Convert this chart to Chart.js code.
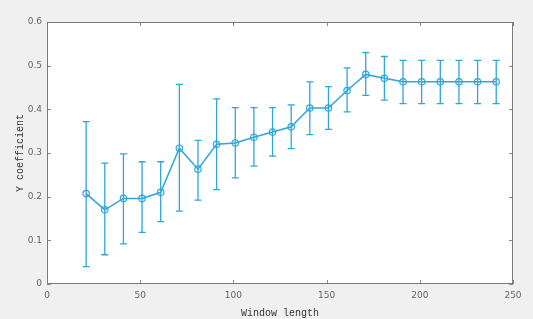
<!DOCTYPE html>
<html>
<head>
<meta charset="utf-8">
<script src="https://cdn.jsdelivr.net/npm/chart.js@4"></script>
<style>
  html, body { margin: 0; padding: 0; background: #f0f0f0; }
  #wrap { width: 533px; height: 319px; }
</style>
</head>
<body>
<div id="wrap"><canvas id="myChart" width="533" height="319"></canvas></div>
<script>
// window lengths and Y coefficient (mean, upper and lower error bar ends)
const windowLength = [21, 31, 41, 51, 61, 71, 81, 91, 101, 111, 121, 131, 141, 151, 161, 171, 181, 191, 201, 211, 221, 231, 241];
const yCoef = [0.207, 0.170, 0.196, 0.196, 0.210, 0.311, 0.263, 0.320, 0.323, 0.336, 0.348, 0.360, 0.403, 0.403, 0.443, 0.480, 0.471, 0.463, 0.463, 0.463, 0.463, 0.463, 0.463];
const yUpper = [0.372, 0.277, 0.298, 0.280, 0.280, 0.457, 0.329, 0.424, 0.404, 0.404, 0.404, 0.410, 0.463, 0.452, 0.495, 0.530, 0.521, 0.512, 0.512, 0.512, 0.512, 0.512, 0.512];
const yLower = [0.040, 0.067, 0.092, 0.118, 0.143, 0.167, 0.192, 0.216, 0.243, 0.270, 0.293, 0.310, 0.342, 0.354, 0.394, 0.432, 0.421, 0.413, 0.413, 0.413, 0.413, 0.413, 0.413];
const xTicks = [0, 50, 100, 150, 200, 250];
const yTicks = [0, 0.1, 0.2, 0.3, 0.4, 0.5, 0.6];

const blue = '#2ea6d8';

// white plot box, box outline, inward ticks, error bars
const matlabBox = {
    id: 'matlabBox',
    beforeDraw(chart) {
        const c = chart.ctx, a = chart.chartArea;
        c.save();
        c.fillStyle = '#f0f0f0';
        c.fillRect(0, 0, chart.width, chart.height);
        c.fillStyle = '#ffffff';
        c.fillRect(a.left, a.top, a.right - a.left, a.bottom - a.top);
        c.restore();
    },
    beforeDatasetsDraw(chart) {
        const c = chart.ctx;
        const xs = chart.scales.x, ys = chart.scales.y;
        c.save();
        c.strokeStyle = blue;
        c.lineWidth = 1.3;
        for (let i = 0; i < windowLength.length; i++) {
            const px = xs.getPixelForValue(windowLength[i]);
            const pt = ys.getPixelForValue(yUpper[i]);
            const pb = ys.getPixelForValue(yLower[i]);
            c.beginPath();
            c.moveTo(px, pt); c.lineTo(px, pb);
            c.moveTo(px - 3.5, pt); c.lineTo(px + 3.5, pt);
            c.moveTo(px - 3.5, pb); c.lineTo(px + 3.5, pb);
            c.stroke();
        }
        c.restore();
    },
    afterDraw(chart) {
        const c = chart.ctx, a = chart.chartArea;
        const xs = chart.scales.x, ys = chart.scales.y;
        c.save();
        c.strokeStyle = '#8a8a8a';
        c.lineWidth = 1;
        c.beginPath();
        xTicks.forEach(v => {
            const px = Math.round(xs.getPixelForValue(v)) + 0.5;
            c.moveTo(px, a.bottom); c.lineTo(px, a.bottom - 4);
            c.moveTo(px, a.top); c.lineTo(px, a.top + 4);
        });
        yTicks.forEach(v => {
            const py = Math.round(ys.getPixelForValue(v)) + 0.5;
            c.moveTo(a.left, py); c.lineTo(a.left + 4, py);
            c.moveTo(a.right, py); c.lineTo(a.right - 4, py);
        });
        c.stroke();
        c.strokeStyle = '#7a7a7a';
        c.strokeRect(a.left + 0.5, a.top + 0.5, a.right - a.left - 1, a.bottom - a.top - 1);
        c.restore();
    }
};

const ctx = document.getElementById('myChart');
const myChart = new Chart(ctx, {
    type: 'line',
    data: {
        datasets: [{
            label: 'Y coefficient',
            data: windowLength.map((x, i) => ({ x: x, y: yCoef[i] })),
            borderColor: blue,
            backgroundColor: 'rgba(255,255,255,0)',
            borderWidth: 1.5,
            pointRadius: 3.2,
            pointBorderWidth: 1.2,
            pointBorderColor: blue,
            pointBackgroundColor: 'rgba(255,255,255,0)',
            tension: 0
        }]
    },
    options: {
        responsive: false,
        animation: false,
        layout: { padding: { top: 22, right: 20, left: 0, bottom: 0 } },
        plugins: { legend: { display: false }, tooltip: { enabled: false } },
        scales: {
            x: {
                type: 'linear',
                min: 0, max: 250,
                grid: { display: false, drawTicks: false },
                border: { display: false },
                afterBuildTicks: s => { s.ticks = xTicks.map(v => ({ value: v })); },
                afterFit: s => { s.height = 35; },
                ticks: {
                    padding: 6,
                    color: '#666',
                    font: { family: 'DejaVu Sans', size: 9 },
                    maxRotation: 0
                },
                title: {
                    display: true,
                    text: 'Window length',
                    color: '#333',
                    padding: { top: 1, bottom: 0 },
                    font: { family: 'Liberation Mono', size: 10 }
                }
            },
            y: {
                min: 0, max: 0.6,
                grid: { display: false, drawTicks: false },
                border: { display: false },
                afterBuildTicks: s => { s.ticks = yTicks.map(v => ({ value: v })); },
                afterFit: s => { s.width = 47; },
                ticks: {
                    padding: 5,
                    color: '#666',
                    font: { family: 'DejaVu Sans', size: 9 },
                    callback: v => (v === 0 ? '0' : v.toFixed(1))
                },
                title: {
                    display: true,
                    text: 'Y coefficient',
                    color: '#333',
                    padding: { top: 14, bottom: 0 },
                    font: { family: 'Liberation Mono', size: 10 }
                }
            }
        }
    },
    plugins: [matlabBox]
});
</script>
</body>
</html>
